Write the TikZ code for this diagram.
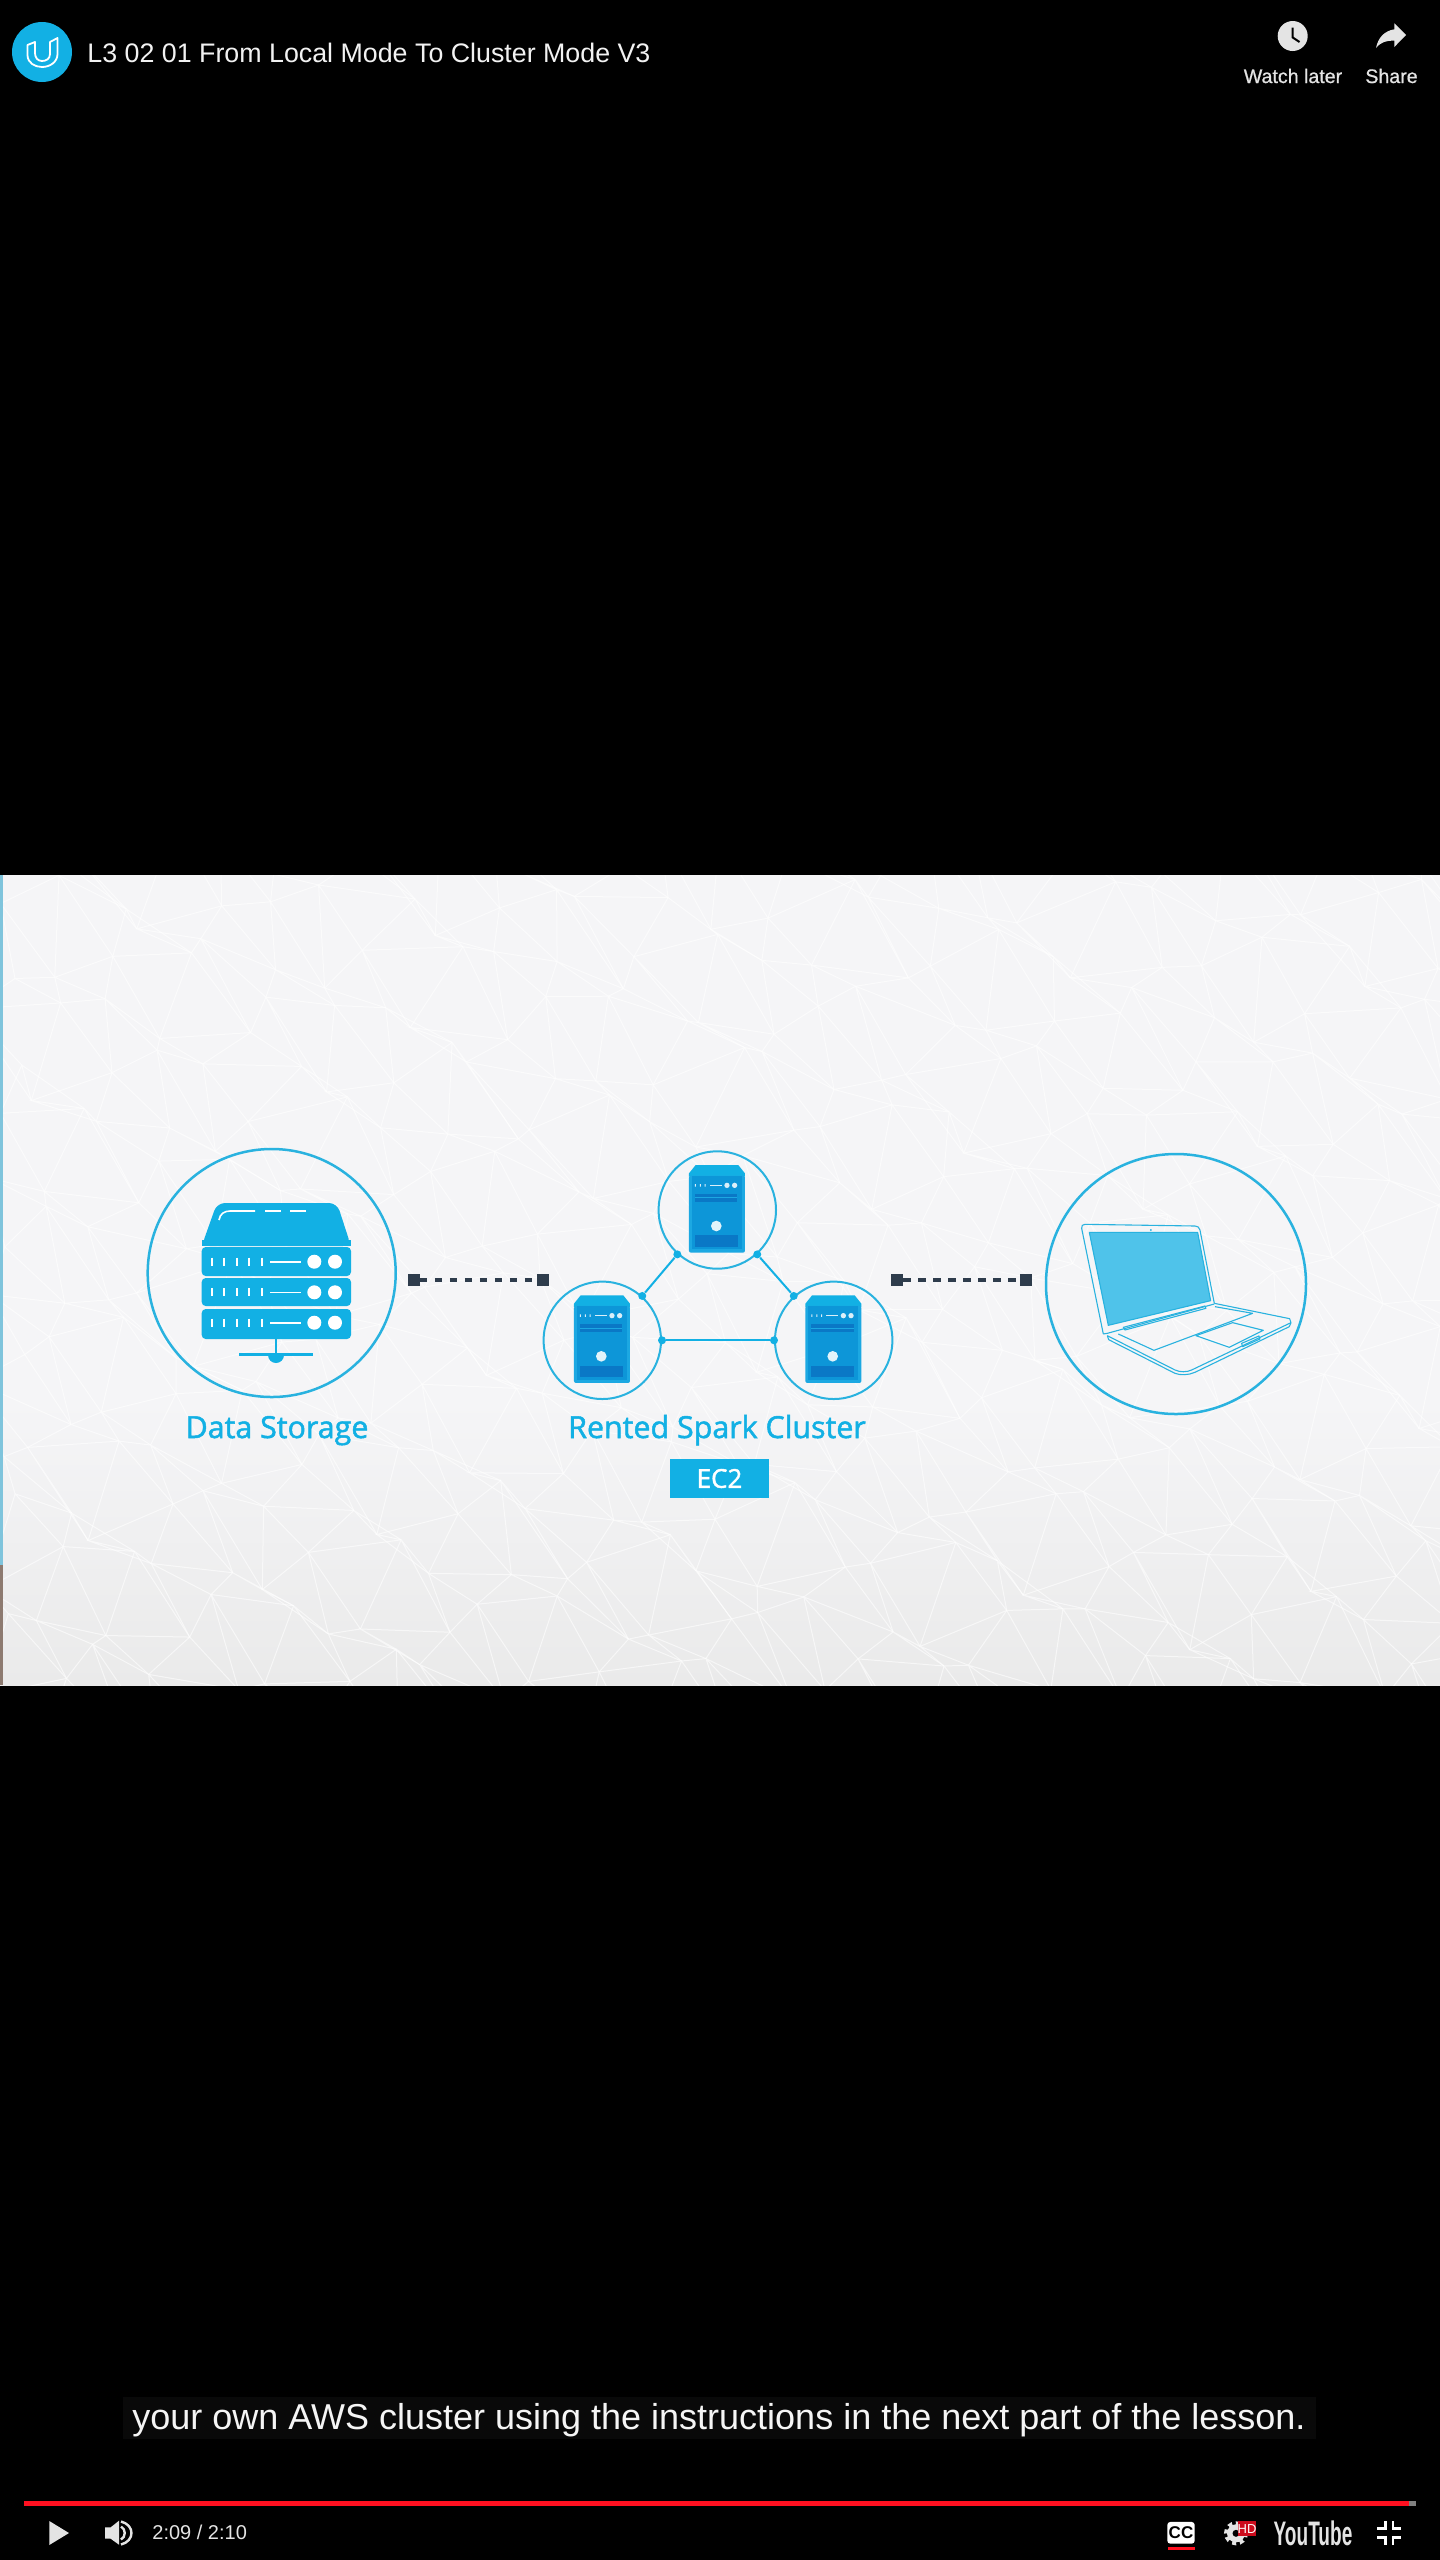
\documentclass[tikz,border=0pt]{standalone}
\usepackage{fontspec}
\setmainfont{Liberation Sans}
\newfontfamily\labelfont[FakeBold=1.6]{Open Sans}
\newfontfamily\uifont[FakeBold=0.8]{Liberation Sans}
\usetikzlibrary{positioning}
\definecolor{skyblue}{HTML}{12B0E4}
\definecolor{ringblue}{HTML}{29B2DF}
\definecolor{linkdark}{HTML}{2E3C4C}
\definecolor{towercap}{HTML}{12B0E4}
\definecolor{towerbody}{HTML}{0D96D8}
\definecolor{towerside}{HTML}{1CA8E2}
\definecolor{towerdeep}{HTML}{0A78C6}
\definecolor{uigrey}{HTML}{E4E4E4}
\definecolor{framepale}{HTML}{F5F5F7}
\definecolor{framelow}{HTML}{EAEAEA}
\definecolor{edgeblue}{HTML}{7FC4DC}
\definecolor{edgebrown}{HTML}{8D7A70}
\definecolor{screenblue}{HTML}{4FC3EA}
\definecolor{barred}{HTML}{FF1020}
\definecolor{bargrey}{HTML}{808080}
\definecolor{hdred}{HTML}{CC0B1C}
\definecolor{capdark}{HTML}{090909}
\tikzset{ringnode/.style={circle,draw=ringblue,line width=1.25pt,fill=none,inner sep=0pt}}
\tikzset{clusternode/.style={circle,draw=ringblue,line width=1pt,fill=none,inner sep=0pt,minimum size=58.7pt}}
\tikzset{dotnode/.style={circle,fill=skyblue,draw=none,inner sep=0pt,minimum size=4pt}}
\tikzset{linkend/.style={rectangle,fill=linkdark,draw=none,inner sep=0pt,minimum size=5.8pt}}
\tikzset{linkdash/.style={draw=linkdark,line width=2pt,dash pattern=on 3.75pt off 3.75pt}}
\tikzset{wireline/.style={draw=skyblue,line width=1pt}}
\tikzset{labeltext/.style={text=skyblue,inner sep=0pt,anchor=base,font=\labelfont\fontsize{15.2}{18}\selectfont}}
\tikzset{uitext/.style={text=uigrey,inner sep=0pt,anchor=base,font=\uifont\fontsize{9.8}{11}\selectfont}}
\tikzset{lapline/.style={draw=ringblue,line width=0.55pt,line join=round}}
\tikzset{exitmark/.style={draw=white,line width=1.4pt}}

% one tower, drawn from its centre
\newcommand{\towerbox}[2]{
    \begin{scope}[shift={(#1,#2)},scale=0.3333]
        \fill[towercap] (-65,-135) -- (63,-135) -- (83,-110) -- (83,-100) -- (-85,-100) -- (-85,-110) -- cycle;
        \fill[towerside,rounded corners=1pt] (-85,-103) rectangle (83,128);
        \fill[towerbody] (-76,-103) rectangle (73,118);
        \fill[white!85!towerbody] (-67,-78) rectangle (-64,-70) (-52,-78) rectangle (-49,-70) (-38,-78) rectangle (-35,-70);
        \fill[white!85!towerbody] (-22,-75.5) rectangle (13,-72.5);
        \fill[white!85!towerbody] (29,-74) circle (8) (52,-74) circle (8);
        \fill[towerdeep] (-68,-48) rectangle (60,-25);
        \fill[towerside] (-68,-38) rectangle (60,-35);
        \fill[white!88!towerbody] (-3,48) circle (16);
        \fill[towerdeep] (-67,76) rectangle (62,110);
    \end{scope}
}
% one rack of the storage unit
\newcommand{\rackrow}[3]{
    \fill[skyblue,rounded corners=2pt] (201.7,#1) rectangle (351,#2);
    \foreach \tickx in {211.7,224.3,237,249.3,262} {
        \draw[white,line width=0.9pt] (\tickx,#3-4) -- (\tickx,#3+4);
    }
    \draw[white,line width=0.8pt] (270,#3) -- (301,#3);
    \fill[white] (314.3,#3) circle (7) (335,#3) circle (7);
}

\begin{document}
\begin{tikzpicture}[x=0.5pt,y=-0.5pt,
    declare function={jitx(\i,\j)=\i*55+20*sin(\i*137+\j*211)+11*sin(\i*311+\j*97);
    jity(\i,\j)=850+\j*55+20*sin(\i*73+\j*173+40)+11*sin(\i*229+\j*59);}]
    \useasboundingbox (0,0) rectangle (1440,2560);
    \fill[black] (0,0) rectangle (1440,2560);

    % video frame
    \fill[framepale] (0,875) rectangle (1440,1400);
    \shade[top color=framepale,bottom color=framelow] (0,1400) rectangle (1440,1685);
    \begin{scope}
        \clip (0,875) rectangle (1440,1685);
        \foreach \i in {0,...,26} {
            \foreach \j in {0,...,15} {
                \pgfmathsetmacro{\ax}{jitx(\i,\j)}
                \pgfmathsetmacro{\ay}{jity(\i,\j)}
                \pgfmathsetmacro{\bx}{jitx(\i+1,\j)}
                \pgfmathsetmacro{\by}{jity(\i+1,\j)}
                \pgfmathsetmacro{\cx}{jitx(\i,\j+1)}
                \pgfmathsetmacro{\cy}{jity(\i,\j+1)}
                \pgfmathsetmacro{\dx}{jitx(\i+1,\j+1)}
                \pgfmathsetmacro{\dy}{jity(\i+1,\j+1)}
                \draw[white,opacity=0.6,line width=0.5pt] (\bx,\by) -- (\ax,\ay) -- (\cx,\cy) (\ax,\ay) -- (\dx,\dy);
            }
        }
    \end{scope}
    \fill[edgeblue] (0,875) rectangle (3,1565);
    \fill[edgebrown] (0,1565) rectangle (3,1685);

    % storage unit
    \node[ringnode,minimum size=124pt] (storage) at (271.7,1273) {};
    \fill[skyblue,rounded corners=4pt] (201.7,1246) -- (217,1203) -- (337,1203) -- (351,1246) -- cycle;
    \fill[skyblue] (201.7,1240) rectangle (351,1246);
    \draw[white,line width=0.8pt] (219,1220) .. controls (220,1214) and (224,1211) .. (230,1211) -- (255,1211);
    \draw[white,line width=0.8pt] (265,1211) -- (281,1211) (290,1211) -- (306,1211);
    \rackrow{1247}{1276}{1261.7}
    \rackrow{1278}{1306}{1292.3}
    \rackrow{1309}{1339}{1322.7}
    \draw[skyblue,line width=1pt] (276,1339) -- (276,1354);
    \draw[skyblue,line width=1.25pt] (239,1354.5) -- (313,1354.5);
    \fill[skyblue] (268,1355) arc (180:0:8) -- cycle;
    \node[labeltext] (lblData) at (277,1438) {Data Storage};

    % cluster
    \node[clusternode] (clusterT) at (717.3,1210) {};
    \node[clusternode] (clusterL) at (602.3,1340.3) {};
    \node[clusternode] (clusterR) [right=56pt of clusterL] {};
    \towerbox{717.3}{1210}
    \towerbox{602.3}{1340.3}
    \towerbox{833.7}{1340.3}

    \node[dotnode] (dotTl) at (clusterT.228) {};
    \node[dotnode] (dotTr) at (clusterT.312) {};
    \node[dotnode] (dotLt) at (clusterL.48) {};
    \node[dotnode] (dotRt) at (clusterR.132) {};
    \node[dotnode] (dotLr) at (clusterL.0) {};
    \node[dotnode] (dotRl) at (clusterR.180) {};
    \draw[wireline] (dotTl) -- (dotLt);
    \draw[wireline] (dotTr) -- (dotRt);
    \draw[wireline] (dotLr) -- (dotRl);

    \node[labeltext] (lblCluster) at (717,1438) {Rented Spark Cluster};
    \node[rectangle,fill=skyblue,text=white,inner sep=0pt,minimum width=49.5pt,minimum height=19.5pt,font=\labelfont\fontsize{13}{16}\selectfont] (boxEc) at (719.5,1478.5) {EC2};

    % dashed links
    \node[linkend] (linkDl) at (413.7,1280) {};
    \node[linkend] (linkDr) [right=58.5pt of linkDl] {};
    \draw[linkdash] (linkDl) -- (linkDr);
    \node[linkend] (linkLl) at (897,1280) {};
    \node[linkend] (linkLr) [right=58.2pt of linkLl] {};
    \draw[linkdash] (linkLl) -- (linkLr);

    % laptop
    \node[ringnode,minimum size=130pt] (laptop) at (1176,1284) {};
    \begin{scope}[shift={(880,1130)},scale=0.3333]
        \fill[screenblue] (628,307) -- (953,307) -- (992,512) -- (685,586) -- cycle;
        \draw[lapline] (628,307) -- (953,307) -- (992,512) -- (685,586) -- cycle;
        \draw[lapline] (670,612) -- (605,295) .. controls (604,287) and (608,283) .. (615,283) -- (945,288) .. controls (953,288) and (958,292) .. (960,300) -- (1003,520);
        \draw[lapline] (670,612) -- (682,610) -- (1003,522);
        \draw[lapline] (730,592) -- (975,528) -- (978,535) -- (735,600) -- cycle;
        \fill[skyblue] (813,300) circle (3);
        \draw[lapline] (682,617) -- (885,720) .. controls (900,727) and (920,727) .. (935,720) -- (1233,578) -- (1229,566) -- (1003,520);
        \draw[lapline] (682,617) -- (686,629) -- (885,730) .. controls (900,736) and (925,736) .. (945,727) -- (1228,590) -- (1233,578);
        \draw[lapline] (715,612) -- (822,661) -- (1118,550) -- (1005,530);
        \draw[lapline] (948,617) -- (1048,652) -- (1150,601) -- (1058,578) -- cycle;
        \draw[lapline] (1085,640) -- (1137,618) -- (1140,627) -- (1088,650) -- cycle;
    \end{scope}

    % title bar
    \node[circle,fill=skyblue,draw=none,inner sep=0pt,minimum size=30pt] (logo) at (42,52) {};
    \draw[white,line width=0.9pt,line join=round] (35,42) -- (27.5,45) -- (27.5,55) .. controls (27.5,63) and (35,67) .. (42,67) .. controls (50,67) and (57.5,62) .. (57.5,54) -- (57.5,38) -- (50,42) -- (50,54) .. controls (50,59) and (46,61) .. (42,61) .. controls (38,61) and (35,58) .. (35,53) -- cycle;
    \node[inner sep=0pt,anchor=base west,text=white!95!black,font=\fontsize{13.4}{16}\selectfont] (title) at (87,62) {L3 02 01 From Local Mode To Cluster Mode V3};

    \fill[uigrey] (1292.7,36) circle (15);
    \draw[black,line width=1pt] (1292.7,27.5) -- (1292.7,37.5) -- (1299.5,42);
    \node[uitext] (lblWatch) at (1293,83) {Watch later};
    \fill[uigrey] (1406,35) -- (1394.3,23.3) -- (1394.3,29.3) .. controls (1384,31) and (1378,38) .. (1376,48) .. controls (1381,42) and (1386,40.5) .. (1394.3,40.7) -- (1394.3,47) -- cycle;
    \node[uitext] (lblShare) at (1391.5,83) {Share};

    % caption
    \node[rectangle,fill=capdark,draw=none,inner sep=0pt,minimum width=596.7pt,minimum height=21pt] (capbox) at (719.4,2418) {};
    \node[inner sep=0pt,anchor=base west,text=white!96!black,font=\fontsize{18}{22}\selectfont] (caption) at (132,2429.5) {your own AWS cluster using the instructions in the next part of the lesson.};

    % player controls
    \fill[bargrey] (1409,2501) rectangle (1416,2505.7);
    \fill[barred] (24,2501) rectangle (1409,2505.7);
    \fill[uigrey] (49.3,2521) -- (69,2533) -- (49.3,2545) -- cycle;
    \fill[uigrey] (105,2527.3) -- (110.7,2527.3) -- (119,2520.7) -- (119,2544.7) -- (110.7,2538.7) -- (105,2538.7) -- cycle;
    \draw[uigrey,line width=1.2pt] (121,2526.5) .. controls (126,2529) and (126,2537) .. (121,2539.5);
    \draw[uigrey,line width=1.2pt] (121,2521.5) .. controls (135,2525) and (135,2541) .. (121,2544.5);
    \node[inner sep=0pt,anchor=base west,text=uigrey,font=\fontsize{10}{12}\selectfont] (timer) at (152,2539) {2:09 / 2:10};

    \node[rectangle,fill=white,rounded corners=1.5pt,inner sep=0pt,minimum width=13.7pt,minimum height=10.85pt,text=black,font=\bfseries\fontsize{8.5}{10}\selectfont] (ccbox) at (1181,2532.8) {CC};
    \fill[barred] (1168,2547) rectangle (1195,2549.7);
    \draw[uigrey,line width=2pt,dash pattern=on 1.95pt off 1.95pt] (1236,2533.3) circle (10);
    \fill[uigrey] (1236,2533.3) circle (9);
    \fill[black] (1236,2533.3) circle (3.5);
    \node[rectangle,fill=hdred,draw=none,inner sep=0pt,minimum width=8.8pt,minimum height=7.5pt,text=white,font=\fontsize{6.5}{8}\selectfont] (hdbadge) at (1247,2528.5) {HD};
    \node[inner sep=0pt,anchor=center,text=uigrey,font=\bfseries\fontsize{17}{20}\selectfont] (ytmark) at (1313,2533) {\scalebox{0.56}[1]{YouTube}};
    \draw[exitmark] (1377.3,2528.7) -- (1385.3,2528.7) -- (1385.3,2521);
    \draw[exitmark] (1393,2521) -- (1393,2528.7) -- (1400.7,2528.7);
    \draw[exitmark] (1377.3,2537.7) -- (1385.3,2537.7) -- (1385.3,2545);
    \draw[exitmark] (1393,2545) -- (1393,2537.7) -- (1400.7,2537.7);
\end{tikzpicture}
\end{document}
